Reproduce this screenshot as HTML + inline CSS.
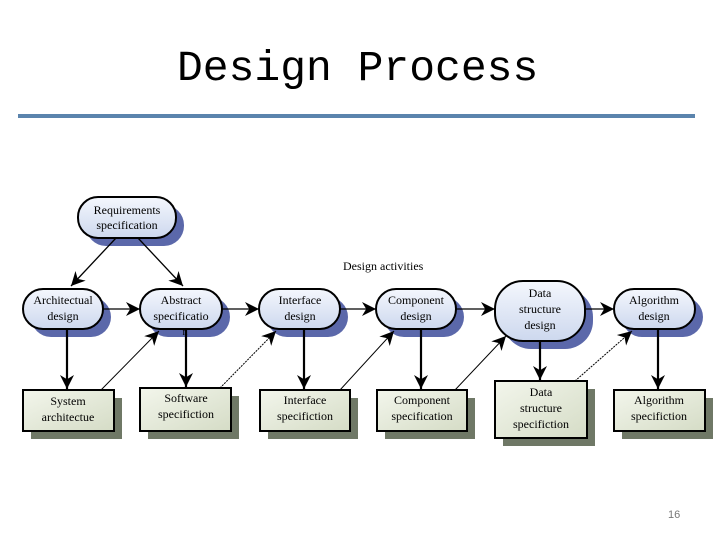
<!DOCTYPE html>
<html><head><meta charset="utf-8"><style>
html,body{margin:0;padding:0;background:#fff;width:720px;height:540px;overflow:hidden}
</style></head><body>
<svg width="720" height="540" viewBox="0 0 720 540" xmlns="http://www.w3.org/2000/svg">
<defs>
<linearGradient id="pg" x1="0" y1="0" x2="0" y2="1"><stop offset="0" stop-color="#f4f7fd"/><stop offset="1" stop-color="#cdd8ee"/></linearGradient>
<linearGradient id="bg" x1="0" y1="0" x2="1" y2="1"><stop offset="0" stop-color="#f3f6ec"/><stop offset="1" stop-color="#d5dcc6"/></linearGradient>
<marker id="ah" viewBox="0 0 10 10" refX="10" refY="5" markerWidth="7" markerHeight="7" orient="auto" markerUnits="userSpaceOnUse"><path d="M0,0 L10,5 L0,10 L3,5 z" fill="#000"/></marker>
<marker id="ab" viewBox="0 0 10 10" refX="10" refY="5" markerWidth="18" markerHeight="14" orient="auto" markerUnits="userSpaceOnUse"><path d="M0,0 L10,5 L0,10 L3,5 z" fill="#000"/></marker>
</defs>
<text x="177" y="80" font-family="Liberation Mono, monospace" font-size="43" fill="#000">Design Process</text>
<rect x="18" y="114" width="677" height="4" fill="#5b84ad"/>
<text x="668" y="518" font-family="Liberation Sans, sans-serif" font-size="11" fill="#777">16</text>
<text x="343" y="270" font-family="Liberation Serif, serif" font-size="12">Design activities</text>
<g font-family="Liberation Serif, serif" font-size="12" text-anchor="middle" stroke-width="2">
<!-- pill shadows -->
<g fill="#5b68aa">
<rect x="86" y="205" width="98" height="41" rx="20"/>
<rect x="31" y="297" width="80" height="40" rx="20"/>
<rect x="148" y="297" width="82" height="40" rx="20"/>
<rect x="267" y="297" width="81" height="40" rx="20"/>
<rect x="384" y="297" width="80" height="40" rx="20"/>
<rect x="503" y="289" width="90" height="60" rx="28"/>
<rect x="622" y="297" width="81" height="40" rx="20"/>
</g>
<g fill="url(#pg)" stroke="#000">
<rect x="78" y="197" width="98" height="41" rx="20"/>
<rect x="23" y="289" width="80" height="40" rx="20"/>
<rect x="140" y="289" width="82" height="40" rx="20"/>
<rect x="259" y="289" width="81" height="40" rx="20"/>
<rect x="376" y="289" width="80" height="40" rx="20"/>
<rect x="495" y="281" width="90" height="60" rx="28"/>
<rect x="614" y="289" width="81" height="40" rx="20"/>
</g>
<!-- box shadows -->
<g fill="#6f7866">
<rect x="31" y="398" width="91" height="41"/>
<rect x="148" y="396" width="91" height="43"/>
<rect x="268" y="398" width="90" height="41"/>
<rect x="385" y="398" width="90" height="41"/>
<rect x="503" y="389" width="92" height="57"/>
<rect x="622" y="398" width="91" height="41"/>
</g>
<g fill="url(#bg)" stroke="#000">
<rect x="23" y="390" width="91" height="41"/>
<rect x="140" y="388" width="91" height="43"/>
<rect x="260" y="390" width="90" height="41"/>
<rect x="377" y="390" width="90" height="41"/>
<rect x="495" y="381" width="92" height="57"/>
<rect x="614" y="390" width="91" height="41"/>
</g>
</g>
<g font-family="Liberation Serif, serif" font-size="12" text-anchor="middle" fill="#000">
<text x="127" y="214">Requirements</text><text x="127" y="229">specification</text>
<text x="63" y="304">Architectual</text><text x="63" y="320">design</text>
<text x="181" y="304">Abstract</text><text x="181" y="320">specificatio</text><text x="185" y="335" font-size="10">n</text>
<text x="300" y="304">Interface</text><text x="300" y="320">design</text>
<text x="416" y="304">Component</text><text x="416" y="320">design</text>
<text x="540" y="297">Data</text><text x="540" y="313">structure</text><text x="540" y="329">design</text>
<text x="654" y="304">Algorithm</text><text x="654" y="320">design</text>
<text x="68" y="405">System</text><text x="68" y="421">architectue</text>
<text x="186" y="402">Software</text><text x="186" y="418">specifiction</text>
<text x="305" y="404">Interface</text><text x="305" y="420">specifiction</text>
<text x="422" y="404">Component</text><text x="422" y="420">specification</text>
<text x="541" y="396">Data</text><text x="541" y="412">structure</text><text x="541" y="428">specifiction</text>
<text x="659" y="404">Algorithm</text><text x="659" y="420">specifiction</text>
</g>
<g stroke="#000" fill="none">
<line x1="116" y1="238" x2="71" y2="286" stroke-width="1.3" marker-end="url(#ab)"/>
<line x1="138" y1="238" x2="183" y2="286" stroke-width="1.3" marker-end="url(#ab)"/>
<g stroke-width="1.3">
<line x1="103" y1="309" x2="140" y2="309" marker-end="url(#ab)"/>
<line x1="222" y1="309" x2="259" y2="309" marker-end="url(#ab)"/>
<line x1="340" y1="309" x2="376" y2="309" marker-end="url(#ab)"/>
<line x1="456" y1="309" x2="495" y2="309" marker-end="url(#ab)"/>
<line x1="585" y1="309" x2="614" y2="309" marker-end="url(#ab)"/>
</g>
<g stroke-width="2.2">
<line x1="67" y1="329" x2="67" y2="389" marker-end="url(#ab)"/>
<line x1="186" y1="329" x2="186" y2="387" marker-end="url(#ab)"/>
<line x1="304" y1="329" x2="304" y2="389" marker-end="url(#ab)"/>
<line x1="421" y1="329" x2="421" y2="389" marker-end="url(#ab)"/>
<line x1="540" y1="341" x2="540" y2="380" marker-end="url(#ab)"/>
<line x1="658" y1="329" x2="658" y2="389" marker-end="url(#ab)"/>
</g>
<g stroke-width="1">
<line x1="101" y1="390" x2="159" y2="331" marker-end="url(#ab)"/>
<line x1="220" y1="388" x2="276" y2="331" stroke-dasharray="2,1" marker-end="url(#ab)"/>
<line x1="340" y1="390" x2="394" y2="331" marker-end="url(#ab)"/>
<line x1="455" y1="390" x2="506" y2="336" marker-end="url(#ab)"/>
<line x1="575" y1="381" x2="632" y2="331" stroke-dasharray="2,1" marker-end="url(#ab)"/>
</g>
</g>
</svg>
</body></html>
